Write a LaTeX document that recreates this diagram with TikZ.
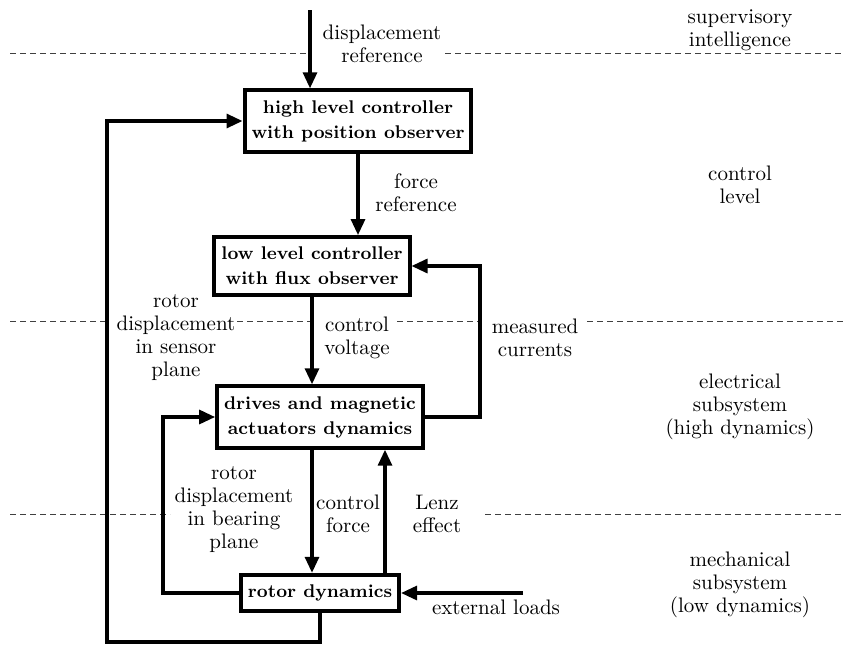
\documentclass[tikz,border=0pt]{standalone}
\usepackage{tikz}
\usetikzlibrary{arrows.meta,positioning}

\begin{document}
\begin{tikzpicture}[
  x=0.5pt,y=-0.5pt,
  >={Triangle[length=8pt,width=7pt]},
  block/.style={draw,line width=2pt,align=center,fill=white,inner xsep=3.5pt,inner ysep=5pt,
    font=\fontsize{9.2}{12.5}\selectfont\bfseries},
  lbl/.style={align=center,font=\fontsize{10.5}{11.5}\selectfont},
  flow/.style={line width=1.6pt,->},
  layer/.style={draw=black!75,line width=0.5pt,dash pattern=on 3pt off 2pt}
]
\useasboundingbox (0,0) rectangle (844,664);

% level separators
\draw[layer] (10,53) -- (310,53) (445,53) -- (844,53);
\draw[layer] (10,321) -- (107,321) (237,321) -- (313,321) (397,321) -- (480,321) (587,321) -- (844,321);
\draw[layer] (10,514) -- (170,514) (485,514) -- (844,514);

% blocks
\node[block] (hl) at (358,121) {high level controller\\with position observer};
\node[block] (ll) at (312,266) {low level controller\\with flux observer};
\node[block] (dr) at (320,417) {drives and magnetic\\actuators dynamics};
\node[block] (rd) at (320,593) {rotor dynamics};

% free ends and bends
\coordinate (dref) at (310,10);
\coordinate (meas) at (480,0);
\coordinate (inner) at (163,0);
\coordinate (outer) at (107,642);
\coordinate (lenz) at (385,0);
\coordinate (ext) at (523,593);

% signals
\draw[flow] (dref) -- (dref |- hl.north);
\draw[flow] (hl.south) -- (hl.south |- ll.north);
\draw[flow] (ll.south) -- (ll.south |- dr.north);
\draw[flow] (dr.east) -- (dr.east -| meas) |- (ll.east);
\draw[flow] (ll.south |- dr.south) -- (ll.south |- rd.north);
\draw[flow] (lenz |- rd.north) -- (lenz |- dr.south);
\draw[flow] (ext) -- (rd.east);
\draw[flow] (rd.west) -- (rd.west -| inner) |- (dr.west);
\draw[flow] (rd.south) |- (outer) |- (hl.west);

% signal labels
\node[lbl] (dreflbl) at (382,44) {displacement\\reference};
\node[lbl] (freflbl) at (416,193) {force\\reference};
\node[lbl] (senslbl) at (176,338) {rotor\\displacement\\in sensor\\plane};
\node[lbl] (voltlbl) at (357,338) {control\\voltage};
\node[lbl] (measlbl) at (535,338) {measured\\currents};
\node[lbl] (bearlbl) at (234,510) {rotor\\displacement\\in bearing\\plane};
\node[lbl] (forclbl) at (348,514) {control\\force};
\node[lbl] (lenzlbl) at (437,514) {Lenz\\effect};
\node[lbl] (extlbl) at (496,607) {external loads};

% level names
\node[lbl] (supv) at (740,30) {supervisory\\intelligence};
\node[lbl] (ctrl) at (740,185) {control\\level};
\node[lbl] (elec) at (740,407) {electrical\\subsystem\\(high dynamics)};
\node[lbl] (mech) at (740,585) {mechanical\\subsystem\\(low dynamics)};
\end{tikzpicture}
\end{document}
